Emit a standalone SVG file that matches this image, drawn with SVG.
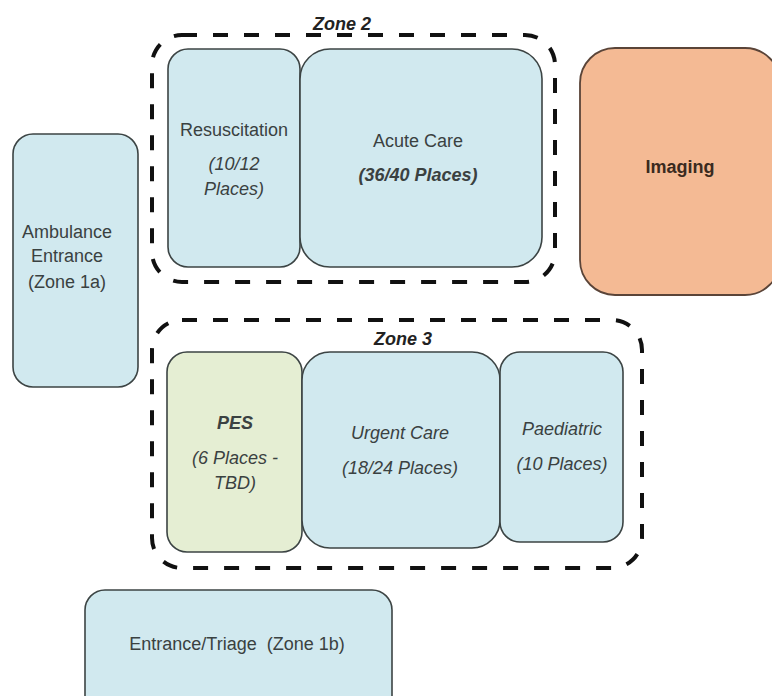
<svg xmlns="http://www.w3.org/2000/svg" width="772" height="696" viewBox="0 0 772 696">
  <style>
    .room { fill: #d1e9ef; stroke: #3c4444; stroke-width: 1.6; }
    .pes { fill: #e5eed3; }
    .imaging { fill: #f4ba94; stroke: #5a4438; stroke-width: 1.8; }
    .zone { fill: none; stroke: #111; stroke-width: 4; stroke-dasharray: 15 16; }
    text { font-family: "Liberation Sans", Arial, sans-serif; fill: #3a4141; text-anchor: middle; font-size: 18px; }
    .it { font-style: italic; }
    .bi { font-style: italic; font-weight: bold; }
    .zl { font-style: italic; font-weight: bold; fill: #222; font-size: 18px; }
    .b { font-weight: bold; fill: #3a2a20; }
  </style>

  <g id="connectors"></g>

  <!-- Zone 2 dashed boundary -->
  <g id="zone2">
    <rect class="zone" x="152" y="35" width="403" height="247" rx="30"/>
    <text class="zl" x="342" y="30">Zone 2</text>
  </g>

  <!-- Zone 3 dashed boundary -->
  <g id="zone3">
    <rect class="zone" x="152" y="320" width="490" height="248" rx="30"/>
    <text class="zl" x="403" y="345">Zone 3</text>
  </g>

  <g id="resuscitation">
    <rect class="room" x="168" y="49" width="132" height="218" rx="20"/>
    <text x="234" y="136">Resuscitation</text>
    <text class="it" x="234" y="170">(10/12</text>
    <text class="it" x="234" y="195">Places)</text>
  </g>

  <g id="acute-care">
    <rect class="room" x="300" y="49" width="242" height="218" rx="30"/>
    <text x="418" y="147">Acute Care</text>
    <text class="bi" x="418" y="181">(36/40 Places)</text>
  </g>

  <g id="imaging">
    <rect class="imaging" x="580" y="48" width="200" height="247" rx="35"/>
    <text class="b" x="680" y="173">Imaging</text>
  </g>

  <g id="ambulance-entrance">
    <rect class="room" x="13" y="134" width="125" height="253" rx="20"/>
    <text x="67" y="238">Ambulance</text>
    <text x="67" y="262">Entrance</text>
    <text x="67" y="288">(Zone 1a)</text>
  </g>

  <g id="pes">
    <rect class="room pes" x="167" y="352" width="135" height="200" rx="20"/>
    <text class="bi" x="235" y="429">PES</text>
    <text class="it" x="235" y="464">(6 Places -</text>
    <text class="it" x="235" y="489">TBD)</text>
  </g>

  <g id="urgent-care">
    <rect class="room" x="302" y="352" width="198" height="196" rx="28"/>
    <text class="it" x="400" y="439">Urgent Care</text>
    <text class="it" x="400" y="474">(18/24 Places)</text>
  </g>

  <g id="paediatric">
    <rect class="room" x="500" y="352" width="123" height="190" rx="20"/>
    <text class="it" x="562" y="435">Paediatric</text>
    <text class="it" x="562" y="470">(10 Places)</text>
  </g>

  <g id="entrance-triage">
    <rect class="room" x="85" y="590" width="307" height="130" rx="20"/>
    <text x="237" y="650" xml:space="preserve">Entrance/Triage  (Zone 1b)</text>
  </g>
</svg>
